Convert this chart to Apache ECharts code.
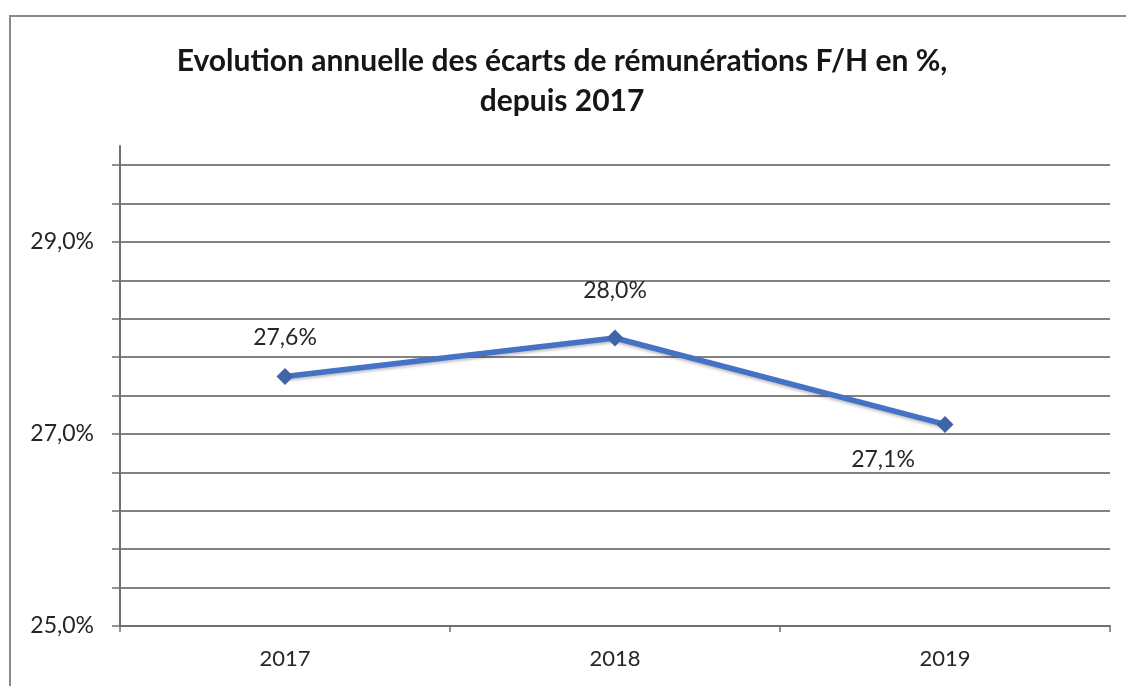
<!DOCTYPE html>
<html>
<head>
<meta charset="utf-8">
<script src="https://cdn.jsdelivr.net/npm/echarts@6/dist/echarts.min.js"></script>
<style>
  html, body { margin: 0; padding: 0; background: #fff; }
  #frame {
    position: absolute; left: 9px; top: 15px; width: 1130px; height: 700px;
    border-left: 2px solid #8a8a8a; border-top: 2px solid #8a8a8a;
  }
  #chart { position: absolute; left: 0; top: 0; width: 1126px; height: 686px; }
</style>
</head>
<body>
<div id="frame"></div>
<div id="chart"></div>
<script>
var years = ['2017', '2018', '2019']
var ecarts = [27.6, 28.0, 27.1]

var titleText = 'Evolution annuelle des écarts de rémunérations F/H en %,\ndepuis 2017'

function pct (v) {
  return v.toFixed(1).replace('.', ',') + '%'
}

var chart = echarts.init(document.getElementById('chart'), null, { renderer: 'canvas' })

// label placement per point, like the hand moved labels of the original
var labelPos = [
  { position: 'top', distance: 19, offset: [0, 0] },
  { position: 'top', distance: 27, offset: [0, 0] },
  { position: 'bottom', distance: 15, offset: [-62, 0] }
]

chart.setOption({
  backgroundColor: 'transparent',
  animation: false,
  title: {
    text: titleText,
    left: 557,
    top: 36,
    textAlign: 'center',
    textStyle: {
      fontFamily: 'Lato',
      fontWeight: 'bold',
      fontSize: 30,
      lineHeight: 40,
      color: '#161616'
    }
  },
  grid: { left: 120, right: 16, top: 146, bottom: 60, containLabel: false },
  xAxis: {
    type: 'category',
    data: years,
    boundaryGap: true,
    axisLine: { lineStyle: { color: '#6f6f6f', width: 2 } },
    axisTick: { show: true, length: 6, lineStyle: { color: '#6f6f6f', width: 1.5 } },
    axisLabel: {
      margin: 22,
      fontFamily: 'Lato',
      fontSize: 22,
      color: '#262626'
    },
    splitLine: { show: false }
  },
  yAxis: {
    type: 'value',
    min: 25,
    max: 30,
    interval: 0.4,
    axisLine: { show: true, lineStyle: { color: '#6f6f6f', width: 2 } },
    axisTick: { show: true, length: 8, lineStyle: { color: '#6f6f6f', width: 1.5 } },
    axisLabel: {
      margin: 26,
      fontFamily: 'Lato',
      fontSize: 23,
      color: '#262626',
      showMaxLabel: false,
      formatter: function (v) {
        return Math.round(v * 10) % 20 === 10 ? pct(v) : ''
      }
    },
    splitLine: {
      show: true,
      showMinLine: false,
      showMaxLine: false,
      lineStyle: { color: '#828282', width: 1.8 }
    }
  },
  series: [{
    type: 'line',
    data: ecarts.map(function (v, i) {
      return { value: v, label: labelPos[i] }
    }),
    symbol: 'diamond',
    symbolSize: 17,
    lineStyle: {
      color: '#4472c4',
      width: 5.5,
      shadowColor: 'rgba(0,0,0,0.25)',
      shadowBlur: 3,
      shadowOffsetY: 2
    },
    itemStyle: { color: '#3f64a8', borderWidth: 0 },
    label: {
      show: true,
      fontFamily: 'Lato',
      fontSize: 23,
      color: '#262626',
      formatter: function (p) { return pct(p.value) }
    }
  }]
})
</script>
</body>
</html>
